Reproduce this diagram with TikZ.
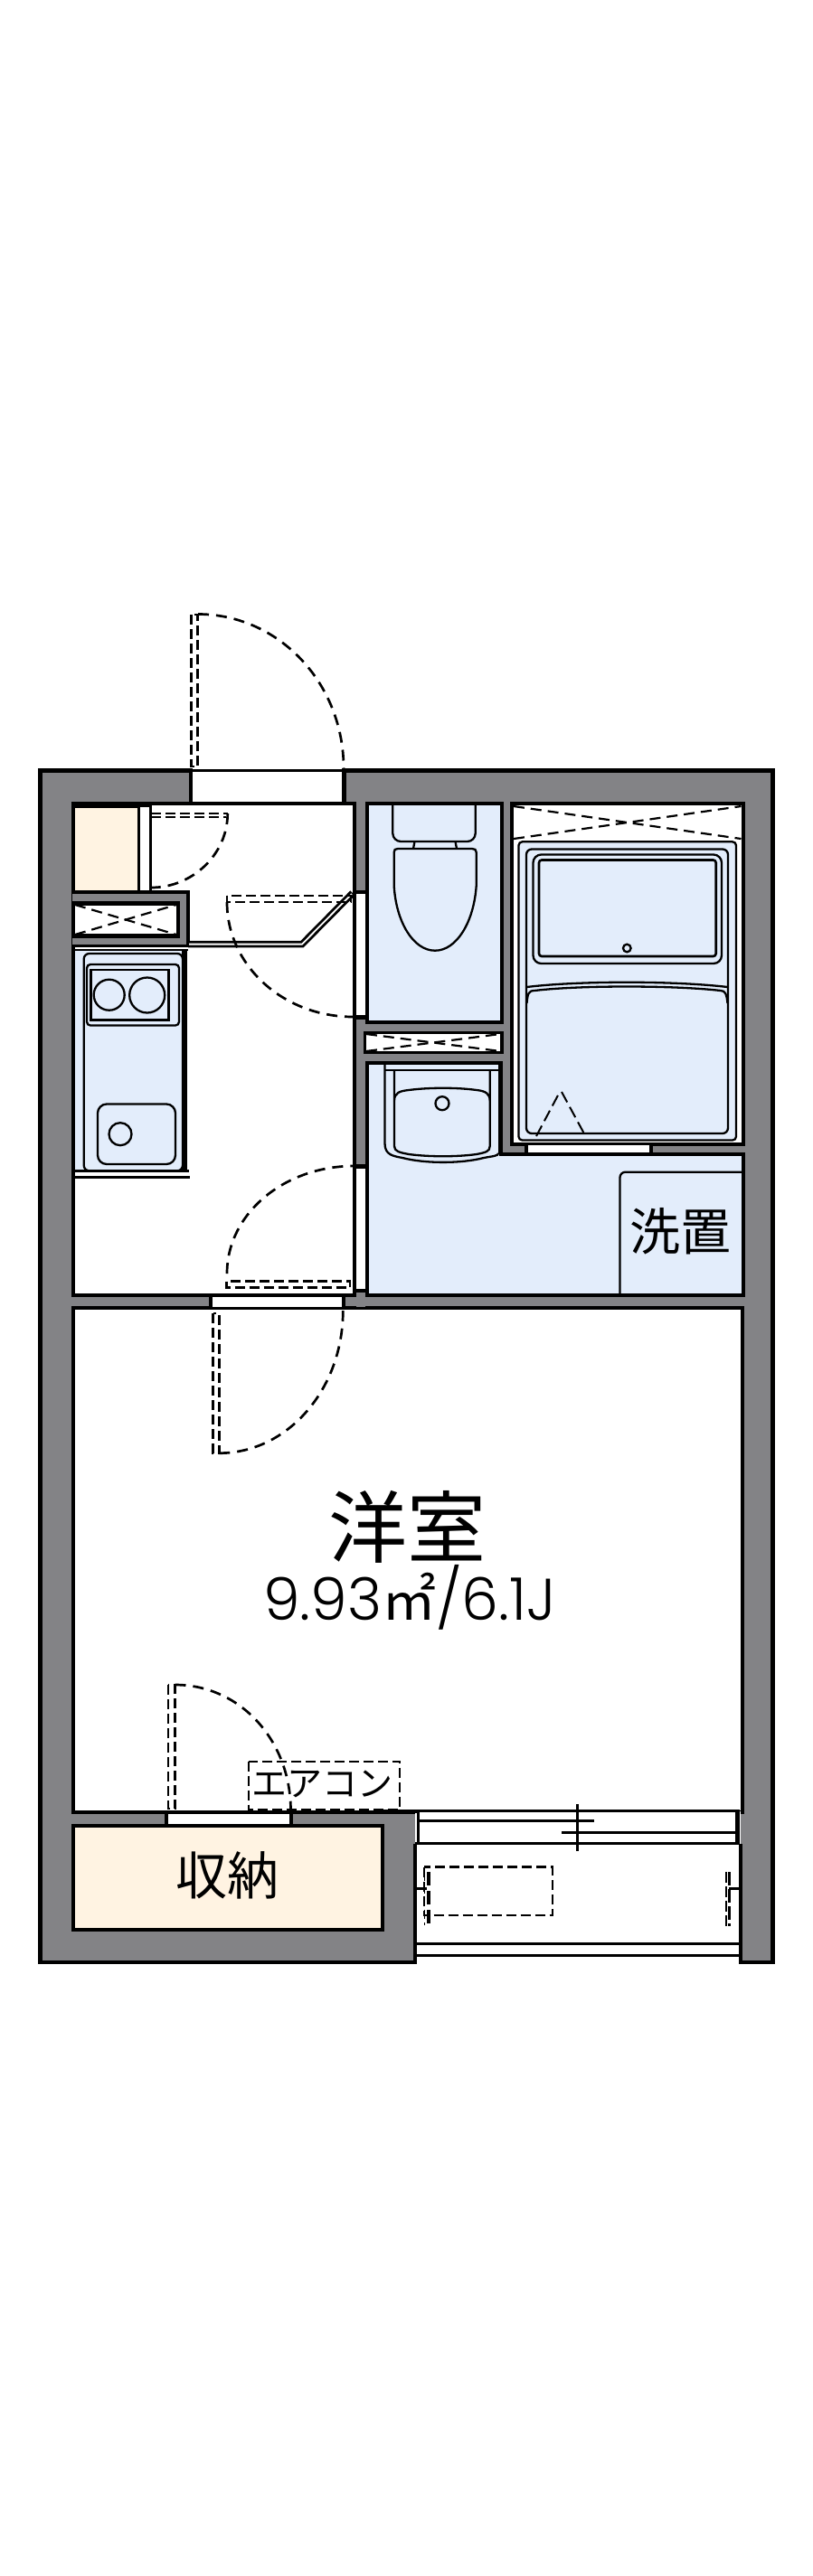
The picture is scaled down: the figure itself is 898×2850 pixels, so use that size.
\documentclass[tikz,border=0pt]{standalone}
\usepackage{fontspec}
\newfontfamily\cjk{Noto Sans CJK JP}
\newfontfamily\latinlabel{Poppins Light}
\definecolor{wallgray}{HTML}{838386}
\definecolor{creamfill}{HTML}{FFF3E2}
\definecolor{bluefill}{HTML}{E3EDFB}
\tikzset{
  wallline/.style={draw=black,line width=4pt,line join=miter},
  thinline/.style={draw=black,line width=2.3pt},
  hairline/.style={draw=black,line width=3pt},
  leafline/.style={draw=black,line width=2.8pt,dash pattern=on 11pt off 5pt},
  swingline/.style={draw=black,line width=2.7pt,dash pattern=on 12pt off 8pt},
  crossline/.style={draw=black,line width=2.2pt,dash pattern=on 12pt off 7pt},
  jamb/.style={fill=black},
  txt/.style={inner sep=0pt,text=black},
}
\begin{document}
\begin{tikzpicture}[x=1pt,y=-1pt]
\useasboundingbox (0,0) rectangle (898,2850);
\fill[white] (0,0) rectangle (898,2850);

% outer wall mass
\draw[fill=wallgray,draw=black,line width=4.6pt] (44.3,852.3) rectangle (854.6,2170.8);

% ---- room: living
\draw[wallline,fill=white] (80.7,1447) rectangle (821.3,2005);
% ---- hall + kitchen
\draw[wallline,fill=white] (80.7,888.7) -- (392.3,888.7) -- (392.3,1433) -- (80.7,1433) -- cycle;
% gray stub between hall and toilet
\fill[wallgray] (394,891) rectangle (404,985);
\fill[wallgray] (394,1127) rectangle (404,1288);
\fill[wallgray] (394,1430) rectangle (404,1446);
\fill[white] (394,988) rectangle (404,1123);
\fill[white] (394,1292) rectangle (404,1426);

% entrance opening
\fill[white] (213,849) rectangle (378,887);
\draw[hairline] (208,852.5) -- (383,852.5);
\fill[jamb] (208.5,850) rectangle (213,890.5);
\fill[jamb] (378,850) rectangle (383,890.5);

% shoe cabinet
\fill[creamfill] (82.7,890) rectangle (153,987);
\draw[wallline,line width=7pt] (78.7,890) -- (168,890);
\fill[white] (155,893) rectangle (165.5,987);
\draw[wallline,line width=3.4pt] (153.5,891) -- (153.5,987);
\draw[wallline,line width=3.4pt] (166.5,891) -- (166.5,987);

% gray block and duct
\fill[wallgray] (80,988) rectangle (208,1046);
\draw[draw=black,line width=3.6pt] (80,986.8) -- (208,986.8) -- (208,1047);
\draw[draw=black,line width=3.2pt] (80,1046.8) -- (209.5,1046.8);
\draw[wallline,fill=white,line width=4.4pt] (81,999.5) rectangle (197,1035.5);
\draw[crossline] (83,1001) -- (195,1034);
\draw[crossline] (83,1034) -- (195,1001);

% kitchen counter
\fill[bluefill] (83,1052) rectangle (203,1295);
\draw[draw=black,line width=2.6pt] (81,1051) -- (208,1051);
\draw[draw=black,line width=4.5pt] (203.5,1052) -- (203.5,1296);
\draw[thinline,rounded corners=6pt,fill=bluefill] (92.7,1055) -- (92.7,1295.3) -- (202,1295.3) -- (202,1055) -- cycle;
\draw[draw=black,line width=5pt] (204,1052) -- (204,1296);
\draw[thinline,rounded corners=4pt] (96,1067) rectangle (198,1134.5);
\draw[draw=black,line width=2.8pt] (100.5,1073) rectangle (186.5,1128.5);
\draw[thinline] (120.7,1100.7) circle[radius=17];
\draw[thinline] (162.7,1101) circle[radius=19.5];
\draw[thinline,rounded corners=10pt] (108,1221.5) rectangle (194,1288);
\draw[thinline] (133,1254.7) circle[radius=12.5];
\draw[draw=black,line width=3pt] (81.7,1295.5) -- (209,1295.5);
\fill[white] (84,1298) rectangle (207,1300.5);
\draw[draw=black,line width=3.4pt] (81.7,1302.3) -- (209.5,1302.3);

% wing wall
\draw[draw=black,line width=7.5pt,line join=miter] (208,1044.6) -- (334,1044.6) -- (390,988);
\draw[draw=white,line width=1.8pt,line join=miter] (209,1044.6) -- (334,1044.6) -- (389,989);

% toilet room
\draw[wallline,fill=bluefill] (406,888.8) rectangle (554.7,1130.5);
\draw[thinline,rounded corners=9pt] (434.3,890) -- (434.3,931) -- (525.7,931) -- (525.7,890);
\draw[thinline] (458.5,931) -- (457,939);
\draw[thinline] (503.5,931) -- (505,939);
\draw[thinline] (526.7,980) .. controls (524,1020) and (505,1051.7) .. (481,1051.7) .. controls (457,1051.7) and (438,1020) .. (435.7,980) -- (435.7,943) .. controls (435.7,940) and (437,939) .. (440,939) -- (522,939) .. controls (525,939) and (526.7,940) .. (526.7,943) -- cycle;
% small duct under toilet
\draw[wallline,fill=white,line width=3.6pt] (403.5,1142.5) rectangle (554.7,1164.5);
\draw[crossline] (405,1144) -- (553,1163);
\draw[crossline] (405,1163) -- (553,1144);

% wash room
\draw[wallline,fill=bluefill] (406,1176) -- (553.7,1176) -- (553.7,1277) -- (821.6,1277) -- (821.6,1433) -- (406,1433) -- cycle;
\draw[wallline,line width=5.5pt] (553.7,1174) -- (553.7,1277);
% wash basin
\draw[thinline] (425.5,1178) -- (425.5,1265) .. controls (425.5,1278) and (435,1279) .. (445,1281) .. controls (470,1287.5) and (510,1287.5) .. (535,1281) .. controls (545,1279) and (551,1279) .. (551,1276);
\draw[draw=black,line width=2.6pt] (425.5,1184) -- (551,1184);
\draw[thinline] (436,1184) -- (436,1218) .. controls (436,1209) and (442,1207) .. (452,1206) .. controls (475,1203) and (505,1203) .. (527,1206) .. controls (537,1207) and (541.7,1210) .. (541.7,1218) -- (541.7,1184);
\draw[thinline] (436,1218) -- (436,1268) .. controls (436,1274) and (442,1275) .. (452,1277) .. controls (475,1280) and (505,1280) .. (527,1277) .. controls (537,1275) and (541.7,1274) .. (541.7,1268) -- (541.7,1218);
\draw[thinline] (489,1220.7) circle[radius=7.5];
% washer
\draw[thinline,rounded corners=6pt] (823,1296.7) -- (685.5,1296.7) -- (685.5,1434);
\draw[wallline] (821.6,1277) -- (821.6,1433) -- (685,1433);

% bath room
\draw[wallline,fill=white] (566.3,888.8) rectangle (821.6,1265.8);
\draw[crossline] (568,892) -- (819.5,928);
\draw[crossline] (568,928) -- (819.5,892);
\draw[thinline,fill=bluefill,rounded corners=4pt] (573.5,931.3) rectangle (814,1261.5);
\draw[thinline,rounded corners=6pt] (582,939.5) rectangle (805,1254);
\draw[thinline,rounded corners=9pt] (589.5,945.5) rectangle (798,1066);
\draw[draw=black,line width=2.6pt,rounded corners=3pt] (596,951.5) rectangle (791.7,1058);
\draw[thinline] (693.3,1049) circle[radius=4.3];
\draw[thinline] (582.5,1092) .. controls (640,1085) and (745,1085) .. (804.5,1092);
\draw[thinline] (582.5,1110) .. controls (583.5,1100) and (584,1096) .. (591,1096) .. controls (640,1090) and (745,1090) .. (797,1096) .. controls (802,1096) and (803.5,1100) .. (804.5,1110);
\draw[draw=black,line width=2pt,dash pattern=on 13pt off 6pt] (593,1257) -- (619,1208);
\draw[draw=black,line width=2pt,dash pattern=on 13pt off 6pt] (621,1208) -- (648,1258);
% bath door
\fill[white] (584,1267.3) rectangle (718,1276);
\draw[draw=black,line width=1.8pt] (582,1276) -- (720,1276);
\fill[jamb] (580,1264) rectangle (584,1278.5);
\fill[jamb] (718,1264) rectangle (722,1278.5);

% hall-side jambs
\fill[jamb] (390.5,985) rectangle (408,989);
\fill[jamb] (390.5,1123) rectangle (408,1128);
\fill[jamb] (390.5,1288) rectangle (408,1292.5);
\fill[jamb] (390.5,1426) rectangle (408,1430);

% living door opening
\fill[white] (235,1435) rectangle (378,1446);
\fill[jamb] (230.7,1431) rectangle (235,1449);
\fill[jamb] (377.7,1431) rectangle (381.7,1449);

% storage
\draw[wallline,fill=creamfill] (80.7,2019.7) rectangle (423,2135);
\fill[white] (186,2006.7) rectangle (320,2017.7);
\fill[jamb] (181.7,2003) rectangle (186,2021.7);
\fill[jamb] (320,2003) rectangle (324,2021.7);

% balcony
\fill[white] (459,2004) rectangle (819,2175);
\draw[wallline,line width=3.6pt] (459,2040) -- (459,2173);
\draw[wallline] (819,2040) -- (819,2173);
\fill[jamb] (460.5,2002) rectangle (464.3,2041);
\fill[jamb] (813,2002) rectangle (818,2041);
\fill[jamb] (420,2002.3) rectangle (464,2005.5);
\draw[hairline] (461,2003.5) -- (815,2003.5);
\draw[hairline] (464,2014.5) -- (657,2014.5);
\draw[hairline] (621,2027.5) -- (815,2027.5);
\draw[hairline] (459,2039.5) -- (818,2039.5);
\draw[hairline] (638.5,1996) -- (638.5,2048);
\draw[hairline] (459,2150.5) -- (818,2150.5);
\draw[hairline] (459,2163.5) -- (818,2163.5);
\draw[leafline] (469,2065.5) rectangle (611,2119);
\draw[draw=black,line width=3pt] (460,2089) -- (472,2089);
\draw[draw=black,line width=1.5pt,dash pattern=on 10pt off 4pt] (469.5,2071) -- (469.5,2130);
\draw[draw=black,line width=4.5pt,dash pattern=on 15pt off 6pt] (474,2071) -- (474,2130);
\draw[draw=black,line width=3pt] (806,2089) -- (817,2089);
\draw[draw=black,line width=1.6pt,dash pattern=on 12pt off 4pt] (803,2071) -- (803,2131);
\draw[draw=black,line width=2.6pt,dash pattern=on 15pt off 4pt] (806.5,2071) -- (806.5,2131);

% doors
\draw[leafline] (211.5,680) rectangle (218.5,848);
\draw[swingline] (219,679.5) .. controls (308,679.5) and (380,755.6) .. (380,850);
\draw[leafline] (167,900) -- (252,900);
\draw[leafline] (167,904) -- (250,904);
\draw[swingline] (251.7,900) .. controls (251.7,945) and (213,982) .. (167,982);
\draw[leafline] (251,991) rectangle (388,998);
\draw[swingline] (251,998) .. controls (251,1068) and (313,1125) .. (390.7,1125);
\draw[leafline] (250.5,1417.5) rectangle (387,1424.5);
\draw[swingline] (251,1409) .. controls (251,1343) and (314,1290) .. (391.7,1290);
\draw[leafline] (235.5,1453) rectangle (242.3,1608);
\draw[swingline] (242.3,1607.7) .. controls (318,1607.7) and (379.3,1537) .. (379.3,1450);
\draw[leafline] (186,1864) rectangle (193.5,2001);
\draw[swingline] (193.5,1864) .. controls (266,1864) and (321.5,1926) .. (321.5,2003);

% air conditioner box
\draw[draw=black,line width=2pt,dash pattern=on 11pt off 5pt] (274.5,1948.5) rectangle (442,2002);

% labels
\node[txt,font=\cjk\fontsize{87}{87}\selectfont] (yoshitsu) at (450.7,1689) {洋室};
\node[txt,font=\latinlabel\fontsize{65}{65}\selectfont,anchor=base west] (area) at (291,1792) {9.93{\cjk\fontsize{60}{60}\selectfont ㎡}/6.1J};
\node[txt,font=\cjk\fontsize{56}{56}\selectfont] (sentaku) at (752.7,1362.7) {洗置};
\node[txt,font=\cjk\fontsize{57}{57}\selectfont] (shuno) at (251.7,2075) {収納};
\node[txt,font=\cjk\fontsize{39}{39}\selectfont] (aircon) at (356.7,1973.5) {エアコン};
\end{tikzpicture}
\end{document}
